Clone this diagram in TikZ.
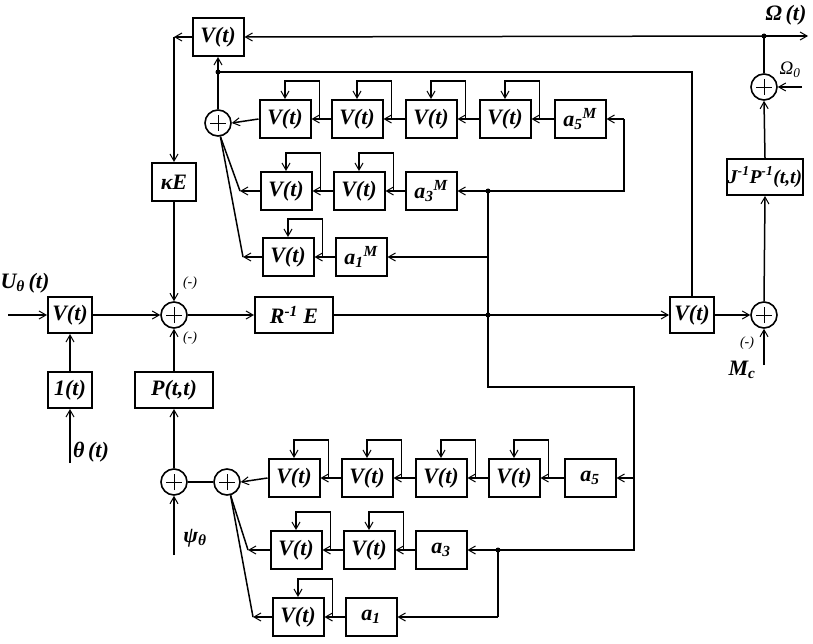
\documentclass[tikz,border=0pt]{standalone}
\usepackage{fontspec}
\setmainfont{Liberation Serif}
\usetikzlibrary{arrows.meta,calc}
\begin{document}
\begin{tikzpicture}[x=1pt,y=-1pt,
  blk/.style={draw,line width=2pt,minimum width=51pt,minimum height=38pt,inner sep=0pt,font=\fontsize{22}{24}\selectfont\bfseries\itshape},
  sumc/.style={draw,circle,line width=1.6pt,minimum size=26pt,inner sep=0pt,
    path picture={\draw[line width=0.9pt] ([xshift=-8pt]path picture bounding box.center) -- ([xshift=8pt]path picture bounding box.center);
                  \draw[line width=0.9pt] ([yshift=-8pt]path picture bounding box.center) -- ([yshift=8pt]path picture bounding box.center);}},
  ln/.style={line width=1.5pt},
  arr/.style={ln,-{Straight Barb[length=7pt,width=8pt,line width=1pt]}},
  jdot/.style={circle,fill,inner sep=0pt,minimum size=5pt},
  lbl/.style={font=\fontsize{22}{24}\selectfont\bfseries\itshape,inner sep=0pt},
  sml/.style={font=\fontsize{14}{16}\selectfont\itshape,inner sep=0pt}
]
\useasboundingbox (0,0) rectangle (813,644);

% ---------- top part
\node[blk] (vtop) at (218,37) {V(t)};
\node[blk,minimum width=44pt] (kE) at (174,182) {κE};
\node[sumc] (S0) at (174,315) {};
\node[sumc] (sM) at (218,123) {};

\node[blk] (vm51) at (285,119) {V(t)};
\node[blk] (vm52) at (357,119) {V(t)};
\node[blk] (vm53) at (431,119) {V(t)};
\node[blk] (vm54) at (505,119) {V(t)};
\node[blk] (am5) at (580,119) {a\textsubscript{5}\textsuperscript{M}};

\node[blk] (vm31) at (286,191) {V(t)};
\node[blk] (vm32) at (359,191) {V(t)};
\node[blk] (am3) at (431,191) {a\textsubscript{3}\textsuperscript{M}};

\node[blk] (vm11) at (288,257) {V(t)};
\node[blk] (am1) at (361,257) {a\textsubscript{1}\textsuperscript{M}};

% ---------- main line
\node[blk,minimum width=44pt,minimum height=36pt] (vin) at (70,315) {V(t)};
\node[blk,minimum width=44pt,minimum height=36pt] (one) at (70,390) {1(t)};
\node[blk,minimum width=78pt,minimum height=36pt] (P) at (174,390) {P(t,t)};
\node[blk,minimum width=78pt,minimum height=36pt] (Rinv) at (294,315) {R\textsuperscript{-1}\ E};
\node[blk,minimum width=44pt,minimum height=36pt] (vright) at (692,315) {V(t)};
\node[sumc] (sR) at (764,315) {};
\node[blk,minimum width=76pt,minimum height=36pt,font=\fontsize{19.5}{21}\selectfont\bfseries\itshape] (J) at (765,177) {J\textsuperscript{-1}P\textsuperscript{-1}(t,t)};
\node[sumc] (sO) at (764,87) {};

% ---------- bottom part
\node[sumc] (sB1) at (174,482) {};
\node[sumc] (sB2) at (227,482) {};
\node[blk] (v51) at (294,478) {V(t)};
\node[blk] (v52) at (367,478) {V(t)};
\node[blk] (v53) at (441,478) {V(t)};
\node[blk] (v54) at (514,478) {V(t)};
\node[blk] (a5) at (590,478) {a\textsubscript{5}};
\node[blk] (v31) at (296,550) {V(t)};
\node[blk] (v32) at (369,550) {V(t)};
\node[blk] (a3) at (441,550) {a\textsubscript{3}};
\node[blk] (v11) at (298,617) {V(t)};
\node[blk] (a1) at (371,617) {a\textsubscript{1}};

% ---------- coordinates
\coordinate (jTop) at (764,36);
\coordinate (outO) at (808,36);
\coordinate (kc) at (174,37);
\coordinate (j72) at (218,72);
\coordinate (cM3) at (240,191);
\coordinate (cM1) at (243,257);
\coordinate (b1) at (488,191);
\coordinate (b2) at (488,257);
\coordinate (b3) at (488,315);
\coordinate (b4) at (488,387);
\coordinate (b5) at (634,387);
\coordinate (b6) at (634,478);
\coordinate (b7) at (634,550);
\coordinate (b8) at (498,550);
\coordinate (b9) at (498,617);
\coordinate (u1) at (624,191);
\coordinate (u2) at (624,119);
\coordinate (in0) at (8,315);
\coordinate (th) at (70,463);
\coordinate (psi) at (174,555);
\coordinate (mc) at (764,365);
\coordinate (o0) at (802,87);
\coordinate (c3) at (248,550);
\coordinate (c1) at (253,617);

% ---------- top connectors
\draw[arr] (jTop) -- (vtop.east);
\draw[arr] (jTop) -- (outO);
\draw[ln] (sO.north) -- (jTop);
\node[jdot] at (jTop) {};
\draw[arr] (vtop.west) -- (kc);
\draw[arr] (kc) -- (kE.north);
\draw[arr] (kE.south) -- (S0.north);
\draw[arr] (sM.north) -- (vtop.south);
\draw[ln] (vright.north) |- (j72);
\node[jdot] at (j72) {};

\draw[arr] (am5.west) -- (vm54.east);
\draw[arr] (vm54.west) -- (vm53.east);
\draw[arr] (vm53.west) -- (vm52.east);
\draw[arr] (vm52.west) -- (vm51.east);
\draw[arr] (vm51.west) -- (sM.east);
\draw[arr] (am3.west) -- (vm32.east);
\draw[arr] (vm32.west) -- (vm31.east);
\draw[arr] (vm31.west) -- (cM3);
\draw[ln] (cM3) -- (sM.-80);
\draw[arr] (am1.west) -- (vm11.east);
\draw[arr] (vm11.west) -- (cM1);
\draw[ln] (cM1) -- (sM.-80);
\foreach \b in {vm51,vm52,vm53,vm54,vm31,vm32,vm11,v51,v52,v53,v54,v31,v32,v11}
  \draw[arr] ([xshift=8pt]\b.east) -- ++(0,-38) -| (\b.north);

% ---------- bus
\draw[arr] (b1) -- (am3.east);
\draw[ln] (b1) -- (u1) -- (u2);
\draw[arr] (u2) -- (am5.east);
\draw[ln] (b1) -- (b4) -- (b5) -- (b7) -- (b8);
\draw[arr] (b2) -- (am1.east);
\draw[arr] (b6) -- (a5.east);
\draw[arr] (b8) -- (a3.east);
\draw[ln] (b8) -- (b9);
\draw[arr] (b9) -- (a1.east);
\node[jdot] at (b1) {};
\node[jdot] at (b3) {};
\node[jdot] at (b8) {};

% ---------- main connectors
\draw[arr] (in0) -- (vin.west);
\draw[arr] (vin.east) -- (S0.west);
\draw[arr] (S0.east) -- (Rinv.west);
\draw[ln] (Rinv.east) -- (b3);
\draw[arr] (b3) -- (vright.west);
\draw[arr] (vright.east) -- (sR.west);
\draw[arr] (mc) -- (sR.south);
\draw[arr] (sR.north) -- (J.south);
\draw[arr] (J.north) -- (sO.south);
\draw[arr] (o0) -- (sO.east);
\draw[arr] (one.north) -- (vin.south);
\draw[arr] (th) -- (one.south);
\draw[arr] (sB1.north) -- (P.south);
\draw[arr] (P.north) -- (S0.south);
\draw[arr] (psi) -- (sB1.south);

% ---------- bottom connectors
\draw[arr] (a5.west) -- (v54.east);
\draw[arr] (v54.west) -- (v53.east);
\draw[arr] (v53.west) -- (v52.east);
\draw[arr] (v52.west) -- (v51.east);
\draw[arr] (v51.west) -- (sB2.east);
\draw[ln] (sB2.west) -- (sB1.east);
\draw[arr] (a3.west) -- (v32.east);
\draw[arr] (v32.west) -- (v31.east);
\draw[arr] (v31.west) -- (c3);
\draw[ln] (c3) -- (sB2.-75);
\draw[arr] (a1.west) -- (v11.east);
\draw[arr] (v11.west) -- (c1);
\draw[ln] (c1) -- (sB2.-75);

% ---------- labels
\node[lbl] (lU) at (25,283) {U\textsubscript{θ}\,(t)};
\node[lbl] (lth) at (91,452) {θ\,(t)};
\node[sml] (m1) at (190,283) {(-)};
\node[sml] (m2) at (190,338) {(-)};
\node[lbl] (lpsi) at (195,538) {ψ\textsubscript{θ}};
\node[sml] (m3) at (747,343) {(-)};
\node[lbl] (lMc) at (742,370) {M\textsubscript{c}};
\node[font=\fontsize{19}{21}\selectfont\itshape,inner sep=0pt] (lO0) at (790,70) {Ω\textsubscript{0}};
\node[lbl] (lOt) at (786,15) {Ω\,(t)};
\end{tikzpicture}
\end{document}
